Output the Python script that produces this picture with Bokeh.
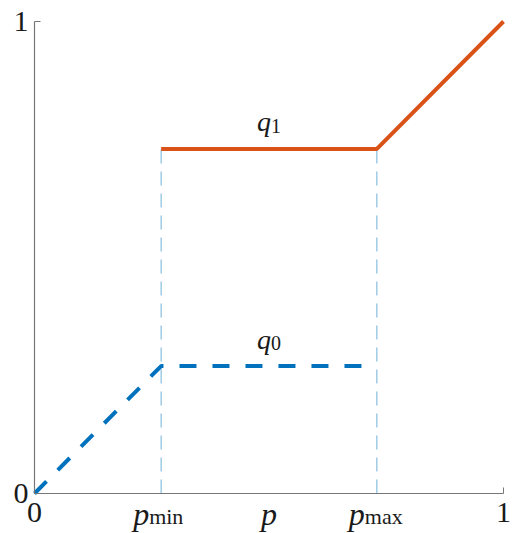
from bokeh.plotting import figure
from bokeh.models import Range1d, FixedTicker, Label
from bokeh.embed import file_html
from bokeh.resources import INLINE

# thresholds on the p axis
p_min = 0.27
p_max = 0.73

# q0: rises with p, then held at p_min
q0_x = [0.0, p_min, p_max]
q0_y = [0.0, p_min, p_min]

# q1: held at p_max, then rises with p
q1_x = [p_min, p_max, 1.0]
q1_y = [p_max, p_max, 1.0]

# guide lines at the thresholds
guide_x = [p_min, p_max]
guide_y0 = [0.0, 0.0]
guide_y1 = [p_max, p_max]

axis_ticks = [0, 1]

SERIF = "Liberation Serif"
INK = "#1a1a1a"
AXIS = "#777777"

W, H = 513, 533
# pixel margins around the unit square; the frame fills the whole page and
# both axes are pinned at 0 so every label sits inside the frame
LEFT, RIGHT, TOP, BOTTOM = 34, 10, 21, 40
sx = W - LEFT - RIGHT
sy = H - TOP - BOTTOM
x_range = Range1d(-LEFT / sx, 1 + RIGHT / sx)
y_range = Range1d(-BOTTOM / sy, 1 + TOP / sy)

p = figure(width=W, height=H, output_backend="svg", toolbar_location=None,
           x_range=x_range, y_range=y_range,
           min_border_left=0, min_border_right=0,
           min_border_top=0, min_border_bottom=0)
p.outline_line_color = None
p.grid.visible = False
p.background_fill_color = "white"
p.border_fill_color = "white"

for ax in (p.xaxis[0], p.yaxis[0]):
    ax.ticker = FixedTicker(ticks=axis_ticks)
    ax.fixed_location = 0
    ax.bounds = (0, 1)
    ax.minor_tick_line_color = None
    ax.major_tick_in = 6
    ax.major_tick_out = 0
    ax.axis_line_color = AXIS
    ax.major_tick_line_color = AXIS
    ax.axis_line_width = 1.2
    ax.major_label_text_font = SERIF
    ax.major_label_text_font_size = "30px"
    ax.major_label_text_color = INK
p.xaxis.major_label_standoff = 9
p.yaxis.major_label_standoff = 6

p.segment(x0=guide_x, y0=guide_y0, x1=guide_x, y1=guide_y1,
          line_color="#6fb0d8", line_width=1, line_dash="14 8")
p.line(q0_x, q0_y, line_color="#0072BD", line_width=4, line_dash="17 16")
p.line(q1_x, q1_y, line_color="#D95319", line_width=4)


def math_label(x, y, base, sub, y_off, size, sub_size, sub_drop, split):
    p.add_layout(Label(x=x, y=y, text=base, x_offset=split, y_offset=y_off,
                       text_align="right", text_baseline="alphabetic",
                       text_font=SERIF, text_font_style="italic",
                       text_font_size=size, text_color=INK))
    p.add_layout(Label(x=x, y=y, text=sub, x_offset=split, y_offset=y_off - sub_drop,
                       text_align="left", text_baseline="alphabetic",
                       text_font=SERIF, text_font_size=sub_size, text_color=INK))


# curve names
math_label(0.5, p_max, "q", "1", 27, "28px", "20px", 4, 2)
math_label(0.5, p_min, "q", "0", 27, "28px", "20px", 4, 2)

# threshold labels under the axis
math_label(p_min, 0, "p", "min", -20, "32px", "22px", 3, -12)
math_label(p_max, 0, "p", "max", -20, "32px", "22px", 3, -12)

# axis name
p.add_layout(Label(x=0.5, y=0, text="p", y_offset=-20, text_align="center",
                   text_baseline="alphabetic", text_font=SERIF,
                   text_font_style="italic", text_font_size="32px", text_color=INK))

open("out.html", "w").write(file_html(p, INLINE))
